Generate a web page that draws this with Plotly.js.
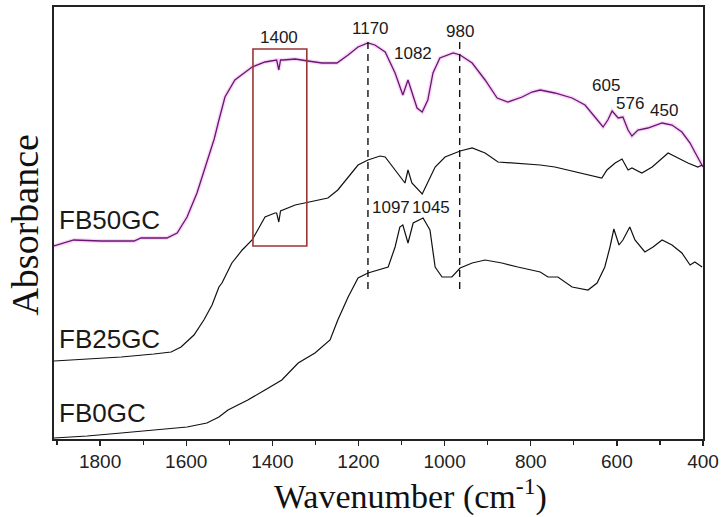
<!DOCTYPE html>
<html>
<head>
<meta charset="utf-8">
<script src="https://cdn.plot.ly/plotly-3.0.1.min.js"></script>
<style>html,body{margin:0;padding:0;background:#fff;}#chart{width:723px;height:517px;}</style>
</head>
<body>
<div id="chart"></div>
<script>
// Wavenumbers (cm-1) and absorbance (arbitrary, offset units)
var wn50 = [1907,1861,1798,1721,1705,1645,1621,1598,1575,1552,1535,1524,1510,1487,1447,1417,1394,1390,1385,1381,1375,1347,1317,1285,1250,1224,1201,1178,1162,1138,1115,1097,1085,1076,1064,1052,1039,1027,1011,980,964,936,906,878,853,820,797,778,744,704,674,651,632,621,611,597,586,574,565,551,528,495,472,449,430,419,407,400];
var abs50 = [193,199,198,198,201,201,206,222,246,276,300,319,342,359,372,377,379,379,369,379,379,380,378,376,376,384,392,396,394,387,366,344,359,346,331,327,339,366,381,386,384,376,359,341,337,342,347,349,346,341,334,322,312,319,328,321,322,309,303,309,311,316,314,307,296,287,277,272];

var wn25 = [1907,1830,1751,1675,1635,1612,1582,1559,1540,1524,1517,1494,1470,1447,1417,1394,1390,1385,1381,1347,1317,1271,1248,1224,1201,1178,1150,1138,1115,1092,1085,1076,1052,1039,1022,999,964,936,906,876,837,778,744,697,667,635,623,604,588,574,565,542,518,500,481,458,435,412,402];
var abs25 = [78,80,82,85,87,92,104,119,134,152,156,176,189,199,222,226,226,217,228,234,237,241,249,262,274,279,283,282,269,256,269,256,245,256,272,282,288,291,286,277,276,274,272,267,264,261,269,276,280,269,271,266,272,279,286,281,276,272,274];

var wn0 = [1907,1830,1751,1675,1598,1552,1524,1503,1457,1417,1378,1340,1301,1266,1248,1224,1201,1178,1150,1131,1115,1104,1097,1085,1073,1050,1034,1022,1006,983,964,936,906,867,830,778,760,737,704,667,646,628,616,607,595,586,570,558,535,516,495,472,449,430,419,402];
var abs0 = [1,3,6,9,12,16,22,29,39,49,59,76,86,99,119,142,161,166,170,172,192,212,214,196,216,221,209,172,162,162,171,176,179,176,172,167,162,162,152,149,156,172,192,210,194,199,212,199,187,192,199,194,186,174,177,172];

var seriesNames = ["FB50GC", "FB25GC", "FB0GC"];
var peakLabels = ["1400", "1170", "1082", "980", "1097", "1045", "605", "576", "450"];
var xTickVals = [1800, 1600, 1400, 1200, 1000, 800, 600, 400];
var dashedMarks = [1178, 965];
var boxRange = [1445, 1320];

var traces = [
  {x: wn50, y: abs50, mode: "lines", line: {color: "rgba(235,140,235,0.35)", width: 4}, hoverinfo: "skip", showlegend: false},
  {x: wn50, y: abs50, mode: "lines", name: seriesNames[0], line: {color: "#6a1670", width: 1.3}},
  {x: wn25, y: abs25, mode: "lines", name: seriesNames[1], line: {color: "#111", width: 1.2}},
  {x: wn0, y: abs0, mode: "lines", name: seriesNames[2], line: {color: "#111", width: 1.2}}
];

var shapes = [];
dashedMarks.forEach(function (v) {
  shapes.push({type: "line", xref: "x", yref: "y", x0: v, x1: v, y0: 150, y1: 397,
    line: {color: "#111", width: 1.4, dash: "7px,5px"}});
});
shapes.push({type: "rect", xref: "x", yref: "y", x0: boxRange[0], x1: boxRange[1], y0: 193, y1: 390,
  line: {color: "#9a3535", width: 1.6}});

var lblFont = {family: "Liberation Sans, Arial, sans-serif", size: 17, color: "#1a1a1a"};
var peakPos = [[1385, 402], [1171, 411], [1073, 386], [964, 408], [1124, 232], [1032, 232], [625, 354], [570, 336], [491, 329]];
var annotations = peakLabels.map(function (t, i) {
  return {text: t, x: peakPos[i][0], y: peakPos[i][1], xref: "x", yref: "y", showarrow: false,
    xanchor: "center", yanchor: "middle", font: lblFont};
});
var seriesLabelY = [219, 100, 26];
seriesNames.forEach(function (n, i) {
  annotations.push({text: n, xref: "paper", yref: "y", x: 0.004, y: seriesLabelY[i], xanchor: "left", yanchor: "middle",
    showarrow: false, font: {family: "Liberation Sans, Arial, sans-serif", size: 26, color: "#1a1a1a"}});
});
annotations.push({text: "Wavenumber (cm<sup>-1</sup>)", xref: "paper", yref: "paper", x: 0.549, y: -0.128,
  xanchor: "center", yanchor: "middle", showarrow: false,
  font: {family: "Liberation Serif, Times New Roman, serif", size: 34, color: "#111"}});
annotations.push({text: "Absorbance", xref: "paper", yref: "paper", x: -0.044, y: 0.495, textangle: -90,
  xanchor: "center", yanchor: "middle", showarrow: false,
  font: {family: "Liberation Serif, Times New Roman, serif", size: 38, color: "#111"}});

var layout = {
  width: 723, height: 517,
  margin: {l: 54, r: 20, t: 7, b: 78},
  paper_bgcolor: "#fff", plot_bgcolor: "#fff",
  showlegend: false,
  xaxis: {range: [1907, 400], tickvals: xTickVals, ticks: "outside", ticklen: 5, tickwidth: 1.3, tickcolor: "#222",
    minor: {dtick: 100, tick0: 400, ticks: "outside", ticklen: 4, tickwidth: 1.2, tickcolor: "#222", showgrid: false},
    showgrid: false, zeroline: false, showline: true, linecolor: "#222", linewidth: 1.6, mirror: true,
    tickfont: {family: "Liberation Sans, Arial, sans-serif", size: 19, color: "#222"}},
  yaxis: {range: [0, 432], showticklabels: false, ticks: "", showgrid: false, zeroline: false,
    showline: true, linecolor: "#222", linewidth: 1.6, mirror: true},
  shapes: shapes,
  annotations: annotations
};

Plotly.newPlot("chart", traces, layout, {staticPlot: true, displayModeBar: false});
</script>
</body>
</html>
